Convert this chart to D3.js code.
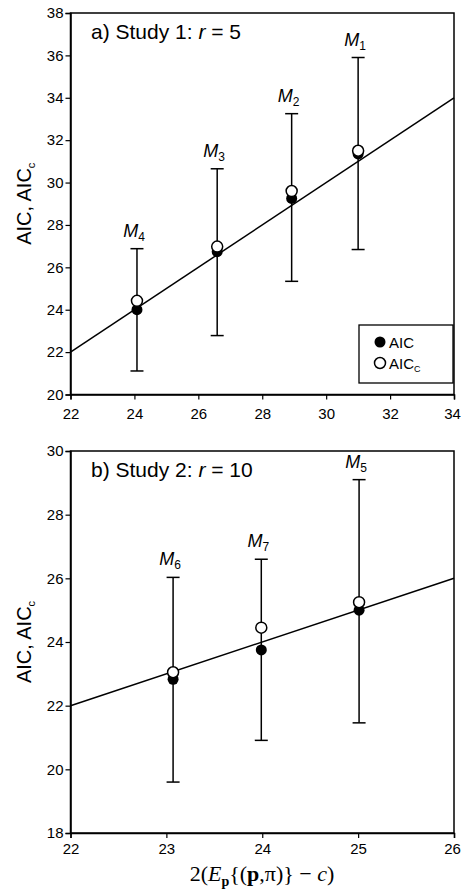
<!DOCTYPE html>
<html><head><meta charset="utf-8">
<script src="https://cdn.jsdelivr.net/npm/d3@7"></script>
<style>
body{margin:0;background:#fff;}
text{font-family:"Liberation Sans",Arial,Helvetica,sans-serif;fill:#000;}
</style></head>
<body>
<svg id="chart" width="461" height="892"></svg>
<script>
// Panel a) Study 1
const modelsA = ["1","2","3","4"];
const xA = [31.0, 28.92, 26.59, 24.08];
const aicA = [31.35, 29.25, 26.74, 24.0];
const aiccA = [31.5, 29.6, 26.98, 24.42];
const hiA = [35.9, 33.25, 30.65, 26.88];
const loA = [26.84, 25.34, 22.78, 21.11];
const xTicksA = [22,24,26,28,30,32,34];
const yTicksA = [20,22,24,26,28,30,32,34,36,38];
const fitA = [22, 34];

// Panel b) Study 2
const modelsB = ["5","6","7"];
const xB = [25.01, 23.07, 23.99];
const aicB = [25.0, 22.83, 23.75];
const aiccB = [25.25, 23.05, 24.45];
const hiB = [29.1, 26.03, 26.6];
const loB = [21.46, 19.6, 20.91];
const xTicksB = [22,23,24,25,26];
const yTicksB = [18,20,22,24,26,28,30];
const fitB = [22, 26];

const svg = d3.select("#chart");

function panel(opts){
  const g = svg.append("g");
  const x = d3.scaleLinear().domain(opts.xDom).range([70.5, 454]);
  const y = d3.scaleLinear().domain(opts.yDom).range([opts.y0, opts.y1]);
  g.append("rect").attr("x", x.range()[0]).attr("y", opts.y1)
    .attr("width", x.range()[1]-x.range()[0]).attr("height", opts.y0-opts.y1)
    .attr("fill","none").attr("stroke","#000").attr("stroke-width",1.5);
  const xa = g.append("g").attr("transform",`translate(0,${opts.y0})`)
    .call(d3.axisBottom(x).tickValues(opts.xTicks).tickSize(5).tickPadding(opts.xPad).tickFormat(d3.format("d")));
  const ya = g.append("g").attr("transform",`translate(${x.range()[0]},0)`)
    .call(d3.axisLeft(y).tickValues(opts.yTicks).tickSize(5).tickPadding(2).tickFormat(d3.format("d")));
  [xa,ya].forEach(a=>{
    a.select(".domain").attr("stroke-width",1.5);
    a.selectAll(".tick line").attr("stroke-width",1.2);
    a.selectAll("text").style("font-size","15px").style("font-family","'Liberation Sans',Arial,sans-serif");
  });
  xa.selectAll(".tick text").filter(d=>d===opts.xDom[1]).attr("dx",-2);
  g.append("line").attr("x1",x(opts.fit[0])).attr("y1",y(opts.fit[0]))
    .attr("x2",x(opts.fit[1])).attr("y2",y(opts.fit[1]))
    .attr("stroke","#000").attr("stroke-width",1.5);
  const n = opts.xs.length;
  const idx = d3.range(n);
  const eb = g.selectAll(".eb").data(idx).enter().append("g");
  eb.append("line").attr("x1",i=>x(opts.xs[i])).attr("x2",i=>x(opts.xs[i]))
    .attr("y1",i=>y(opts.hi[i])).attr("y2",i=>y(opts.lo[i])).attr("stroke","#000").attr("stroke-width",1.5);
  eb.append("line").attr("x1",i=>x(opts.xs[i])-6.5).attr("x2",i=>x(opts.xs[i])+6.5)
    .attr("y1",i=>y(opts.hi[i])).attr("y2",i=>y(opts.hi[i])).attr("stroke","#000").attr("stroke-width",1.5);
  eb.append("line").attr("x1",i=>x(opts.xs[i])-6.5).attr("x2",i=>x(opts.xs[i])+6.5)
    .attr("y1",i=>y(opts.lo[i])).attr("y2",i=>y(opts.lo[i])).attr("stroke","#000").attr("stroke-width",1.5);
  g.selectAll(".aic").data(idx).enter().append("circle")
    .attr("cx",i=>x(opts.xs[i])).attr("cy",i=>y(opts.aic[i])).attr("r",5.5).attr("fill","#000");
  g.selectAll(".aicc").data(idx).enter().append("circle")
    .attr("cx",i=>x(opts.xs[i])).attr("cy",i=>y(opts.aicc[i])).attr("r",5.5)
    .attr("fill","#fff").attr("stroke","#000").attr("stroke-width",1.5);
  const lab = g.selectAll(".ml").data(idx).enter().append("text")
    .attr("x",i=>x(opts.xs[i])-3).attr("y",i=>y(opts.hi[i])-12)
    .attr("text-anchor","middle").style("font-size","18px");
  lab.append("tspan").style("font-style","italic").text("M");
  lab.append("tspan").attr("dy",4).style("font-size","12px").text(i=>opts.models[i]);
  const t = g.append("text").attr("x",91).attr("y",opts.y1+25.5).style("font-size","21px");
  t.append("tspan").text(opts.title);
  t.append("tspan").style("font-style","italic").text("r");
  t.append("tspan").text(" = " + opts.r);
  const yl = g.append("text").attr("transform",`translate(31,${(opts.y0+opts.y1)/2}) rotate(-90)`)
    .attr("text-anchor","middle").style("font-size","20px");
  yl.append("tspan").text("AIC, AIC");
  yl.append("tspan").attr("dy",4).style("font-size","11px").text("c");
  return {g,x,y};
}

const A = panel({xDom:[22,34], yDom:[20,38], y0:394.5, y1:13, xTicks:xTicksA, yTicks:yTicksA, xPad:9,
  fit:fitA, xs:xA, aic:aicA, aicc:aiccA, hi:hiA, lo:loA, models:modelsA, title:"a) Study 1: ", r:"5"});
const B = panel({xDom:[22,26], yDom:[18,30], y0:833, y1:451, xTicks:xTicksB, yTicks:yTicksB, xPad:5,
  fit:fitB, xs:xB, aic:aicB, aicc:aiccB, hi:hiB, lo:loB, models:modelsB, title:"b) Study 2: ", r:"10"});

// legend
const lg = A.g.append("g");
lg.append("rect").attr("x",359).attr("y",325).attr("width",94).attr("height",58)
  .attr("fill","#fff").attr("stroke","#000").attr("stroke-width",1.3);
lg.append("circle").attr("cx",380).attr("cy",342).attr("r",5.5).attr("fill","#000");
lg.append("circle").attr("cx",380).attr("cy",363).attr("r",5.5).attr("fill","#fff").attr("stroke","#000").attr("stroke-width",1.5);
lg.append("text").attr("x",389).attr("y",347.5).style("font-size","15px").text("AIC");
const l2 = lg.append("text").attr("x",389).attr("y",368.5).style("font-size","15px");
l2.append("tspan").text("AIC");
l2.append("tspan").attr("dy",3).style("font-size","9px").text("C");

// x label (serif)
const serif = "'Liberation Serif','Times New Roman',serif";
const xl = svg.append("text").attr("x",262).attr("y",881).attr("text-anchor","middle")
  .style("font-family",serif).style("font-size","22px");
xl.append("tspan").style("font-family",serif).text("2(");
xl.append("tspan").style("font-family",serif).style("font-style","italic").text("E");
xl.append("tspan").style("font-family",serif).style("font-weight","bold").style("font-size","14px").attr("dy",5).text("p");
xl.append("tspan").style("font-family",serif).attr("dy",-5).text("{(");
xl.append("tspan").style("font-family",serif).style("font-weight","bold").text("p");
xl.append("tspan").style("font-family",serif).text(",π)} − ");
xl.append("tspan").style("font-family",serif).style("font-style","italic").text("c");
xl.append("tspan").style("font-family",serif).text(")");
</script>
</body></html>
